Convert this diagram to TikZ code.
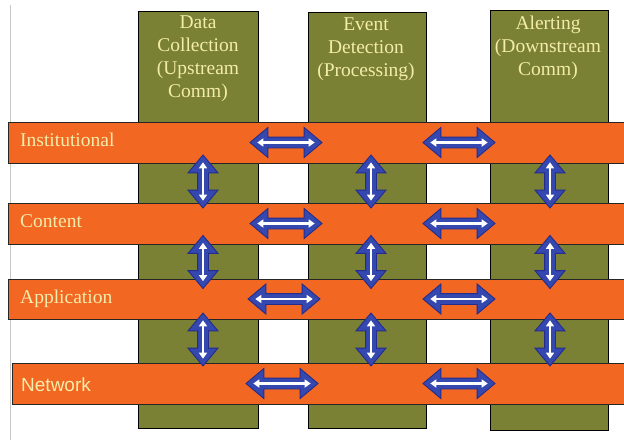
\documentclass[tikz,border=0pt]{standalone}
\usepackage{fontspec}
\setmainfont{Liberation Serif}
\newfontfamily\netfont{Liberation Sans}
\usepackage{xcolor}
\definecolor{naranja}{RGB}{242, 103, 34}
\definecolor{oliva}{RGB}{122, 128, 52}
\definecolor{azulfl}{RGB}{52, 72, 176}
\definecolor{azulosc}{RGB}{36, 44, 140}
\definecolor{textocl}{RGB}{244, 236, 170}
\usetikzlibrary{shapes, arrows.meta, positioning}
\tikzset{
    columna/.style={fill=oliva, draw=black, line width=0.9pt},
    capa/.style={fill=naranja, draw=black!85, line width=0.9pt},
    etiq/.style={text=textocl, inner sep=0pt, font=\fontsize{19.5}{23}\selectfont},
    flechab/.style={double arrow, fill=azulfl, draw=azulosc, line width=0.9pt,
        minimum height=72pt, inner xsep=0pt, inner ysep=5pt,
        double arrow head extend=9.5pt, double arrow tip angle=80},
    flechav/.style={flechab, minimum height=53pt, rotate=90},
    linblanca/.style={white, line width=2.6pt, shorten <=8pt, shorten >=8pt,
        {Triangle[length=6pt,width=8pt]}-{Triangle[length=6pt,width=8pt]}}
}
\begin{document}
\begin{tikzpicture}[x=1pt, y=-1pt]
    \clip (0,0) rectangle (624,440);
    \fill[white] (0,0) rectangle (624,440);
    % Linea gris del borde izquierdo
    \draw[black!22, line width=0.8pt] (10,5) -- (10,440);
    % Columnas (etapas)
    \draw[columna] (138,11) rectangle (258,428);
    \draw[columna] (308,12) rectangle (426,428);
    \draw[columna] (490,10) rectangle (608,430);
    \node[etiq, align=center, anchor=north] (datos) at (198,16) {Data\\Collection\\(Upstream\\Comm)};
    \node[etiq, align=center, anchor=north] (evento) at (366,18) {Event\\Detection\\(Processing)};
    \node[etiq, align=center, anchor=north] (alerta) at (548,16) {Alerting\\(Downstream\\Comm)};
    % Capas horizontales
    \draw[capa] (8,122) rectangle (640,163);
    \draw[capa] (8,203) rectangle (640,244);
    \draw[capa] (8,279) rectangle (640,319);
    \draw[capa] (12,363) rectangle (640,404);
    \node[etiq, anchor=base west] (inst) at (20,146.5) {Institutional};
    \node[etiq, anchor=base west] (cont) at (20,227.5) {Content};
    \node[etiq, anchor=base west] (apli) at (20,303) {Application};
    \node[etiq, anchor=base west, font=\netfont\fontsize{19}{23}\selectfont] (red) at (21,391) {Network};
    % Flechas horizontales entre columnas
    \foreach \y/\xa [count=\i] in {142.5/286, 223.5/286, 299/284, 383.5/282} {
        \node[flechab] (ha\i) at (\xa,\y) {};
        \draw[linblanca] (ha\i.tip 1) -- (ha\i.tip 2);
        \node[flechab] (hb\i) at (459,\y) {};
        \draw[linblanca] (hb\i.tip 1) -- (hb\i.tip 2);
    }
    % Flechas verticales entre capas
    \foreach \x [count=\i] in {203,371,550} {
        \foreach \y [count=\j] in {181.5,262,339.5} {
            \node[flechav] (v\i\j) at (\x,\y) {};
            \draw[linblanca] (v\i\j.tip 1) -- (v\i\j.tip 2);
        }
    }
\end{tikzpicture}
\end{document}
